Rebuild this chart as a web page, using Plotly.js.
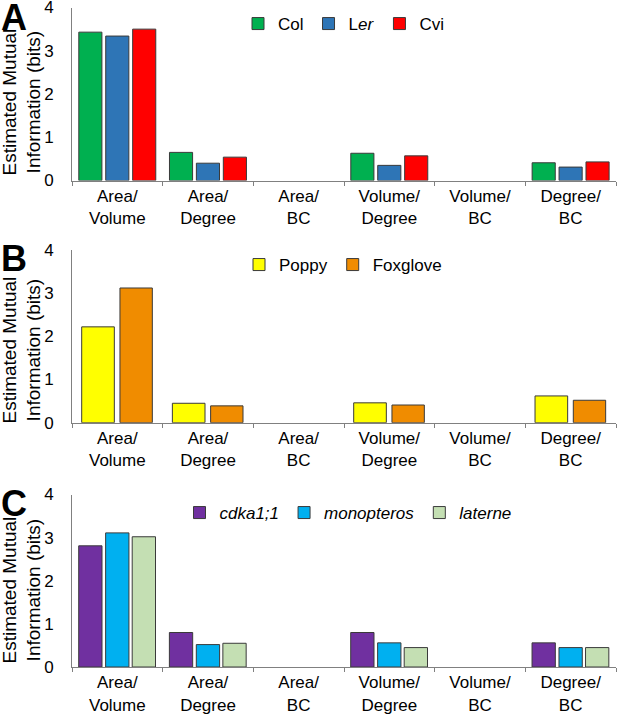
<!DOCTYPE html>
<html>
<head>
<meta charset="utf-8">
<script src="https://cdn.plot.ly/plotly-3.0.1.min.js"></script>
<style>html,body{margin:0;padding:0;background:#fff;}#chart{width:617px;height:714px;}</style>
</head>
<body>
<div id="chart"></div>
<script>
// ---- data ----
const categories = ["Area/<br>Volume", "Area/<br>Degree", "Area/<br>BC", "Volume/<br>Degree", "Volume/<br>BC", "Degree/<br>BC"];
const yTicks = [0, 1, 2, 3, 4];
const yTitle = "Estimated Mutual<br>Information (bits)";
const panelLetters = ["A", "B", "C"];

// Panel A (no bar drawn for Area/BC and Volume/BC)
const colValues = [3.43, 0.65, null, 0.63, null, 0.41];
const lerValues = [3.34, 0.40, null, 0.35, null, 0.31];
const cviValues = [3.50, 0.54, null, 0.57, null, 0.43];
// Panel B
const poppyValues    = [2.22, 0.45, null, 0.46, null, 0.62];
const foxgloveValues = [3.12, 0.39, null, 0.41, null, 0.52];
// Panel C
const cdkaValues       = [2.81, 0.80, null, 0.80, null, 0.56];
const monopterosValues = [3.11, 0.52, null, 0.56, null, 0.45];
const laterneValues    = [3.02, 0.55, null, 0.45, null, 0.45];

const FONT = "Liberation Sans, Arial, sans-serif";
const W = 617, H = 714;
const px = v => v / W;
const py = v => 1 - v / H;

const outline = {color: "#3a3a3a", width: 1};
function bar(name, values, color, xa, ya, legend, offset, width) {
  return {
    type: "bar", name: name, x: categories, y: values,
    xaxis: xa, yaxis: ya, legend: legend,
    offset: offset, width: width,
    marker: {color: color, line: outline},
    hoverinfo: "x+y+name"
  };
}

const data = [
  bar("Col", colValues, "#00B050", "x", "y", "legend", -0.425, 0.255),
  bar("L<i>er</i>", lerValues, "#2E75B6", "x", "y", "legend", -0.128, 0.255),
  bar("Cvi", cviValues, "#FF0000", "x", "y", "legend", 0.169, 0.255),

  bar("Poppy", poppyValues, "#FFFF00", "x2", "y2", "legend2", -0.393, 0.36),
  bar("Foxglove", foxgloveValues, "#F08C00", "x2", "y2", "legend2", 0.029, 0.357),

  bar("<i>cdka1;1</i>", cdkaValues, "#7030A0", "x3", "y3", "legend3", -0.426, 0.257),
  bar("<i>monopteros</i>", monopterosValues, "#00B0F0", "x3", "y3", "legend3", -0.129, 0.257),
  bar("<i>laterne</i>", laterneValues, "#C4DFB3", "x3", "y3", "legend3", 0.164, 0.257)
];

const panels = [
  {top: 7.5, bottom: 180.5, titleY: 102, letterY: 17},
  {top: 250, bottom: 422.7, titleY: 350, letterY: 258},
  {top: 494.5, bottom: 667, titleY: 590, letterY: 503}
];

function xaxis(anchor) {
  return {
    domain: [px(72), px(616)], anchor: anchor,
    type: "category", range: [-0.5, 5.5],
    showline: true, linecolor: "#808080", linewidth: 1,
    ticks: "outside", tickson: "boundaries", ticklen: 4, tickcolor: "#808080",
    showgrid: false, zeroline: false, fixedrange: true,
    ticklabeloverflow: "allow",
    tickfont: {family: FONT, size: 17, color: "#000"}
  };
}
function yaxis(anchor, p) {
  return {
    domain: [py(p.bottom), py(p.top)], anchor: anchor,
    range: [0, 4], tickvals: yTicks, ticktext: yTicks.map(String),
    showline: true, linecolor: "#808080", linewidth: 1,
    ticks: "", ticklabelstandoff: 14, ticklabeloverflow: "allow",
    showgrid: false, zeroline: false, fixedrange: true,
    tickfont: {family: FONT, size: 17, color: "#000"}
  };
}
function legend(xc, yc) {
  return {
    orientation: "h", x: px(xc), xanchor: "center", y: py(yc), yanchor: "middle",
    font: {family: FONT, size: 17, color: "#000"}, bgcolor: "rgba(0,0,0,0)",
    traceorder: "normal"
  };
}

const annotations = [];
panels.forEach((p, i) => {
  annotations.push({
    text: "<b>" + panelLetters[i] + "</b>", xref: "paper", yref: "paper",
    x: px(14), y: py(p.letterY), xanchor: "center", yanchor: "middle",
    showarrow: false, font: {family: FONT, size: 36, color: "#000"}
  });
  annotations.push({
    text: yTitle, xref: "paper", yref: "paper", textangle: -90,
    x: px(21.5), y: py(p.titleY), xanchor: "center", yanchor: "middle",
    showarrow: false, font: {family: FONT, size: 19, color: "#000"}
  });
});

const layout = {
  width: W, height: H,
  margin: {l: 0, r: 0, t: 0, b: 0},
  paper_bgcolor: "#fff", plot_bgcolor: "rgba(0,0,0,0)",
  barmode: "overlay",
  showlegend: true,
  xaxis: xaxis("y"), yaxis: yaxis("x", panels[0]),
  xaxis2: xaxis("y2"), yaxis2: yaxis("x2", panels[1]),
  xaxis3: xaxis("y3"), yaxis3: yaxis("x3", panels[2]),
  legend: legend(344, 24),
  legend2: legend(343, 265),
  legend3: legend(348, 513),
  annotations: annotations
};

Plotly.newPlot("chart", data, layout, {displayModeBar: false, staticPlot: true});
</script>
</body>
</html>
